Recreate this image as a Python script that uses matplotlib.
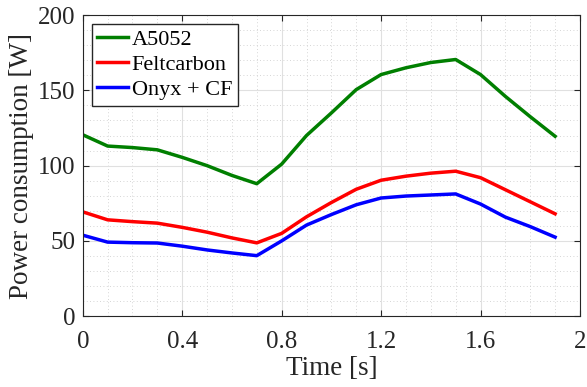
import matplotlib
matplotlib.use('Agg')
import matplotlib.pyplot as plt
from matplotlib.ticker import MultipleLocator

plt.rc('font', family='Liberation Serif', size=18)

t = [0.0, 0.1, 0.2, 0.3, 0.4, 0.5, 0.6, 0.7, 0.8, 0.9,
     1.0, 1.1, 1.2, 1.3, 1.4, 1.5, 1.6, 1.7, 1.8, 1.9]
a5052 = [120.5, 113, 112, 110.5, 105.5, 100, 93.5, 88, 101, 120,
         135, 150.5, 160.5, 165, 168.5, 170.5, 160.5, 146, 132.5, 119.5]
feltcarbon = [69.3, 64, 62.8, 61.8, 59, 55.8, 52, 48.7, 55, 66,
              75.5, 84.3, 90.3, 93, 95, 96.3, 92, 84, 76, 68]
onyx_cf = [53.8, 49.2, 48.8, 48.6, 46.5, 44, 42, 40.2, 50, 60.5,
           67.5, 74, 78.5, 79.8, 80.5, 81.2, 74.5, 65.8, 59.5, 52.5]

fig, ax = plt.subplots(figsize=(5.87, 3.87), dpi=100)
fig.subplots_adjust(left=0.141, right=0.988, top=0.961, bottom=0.183)

ax.plot(t, a5052, color='#007f00', linewidth=2.5, label='A5052')
ax.plot(t, feltcarbon, color='#ff0000', linewidth=2.5, label='Feltcarbon')
ax.plot(t, onyx_cf, color='#0000ff', linewidth=2.5, label='Onyx + CF')

ax.set_xlim(0, 2)
ax.set_ylim(0, 200)
ax.xaxis.set_minor_locator(MultipleLocator(0.1))
ax.yaxis.set_major_locator(MultipleLocator(50))
ax.yaxis.set_minor_locator(MultipleLocator(10))
ax.set_xticks([0, 0.4, 0.8, 1.2, 1.6, 2])
ax.set_xticklabels(['0', '0.4', '0.8', '1.2', '1.6', '2'])

ax.grid(which='major', color='#e0e0e0', linewidth=0.8)
ax.grid(which='minor', color='#c8c8c8', linestyle=(0, (1, 3)), linewidth=0.6)
ax.tick_params(which='both', direction='in', top=True, right=True, colors='#262626',
               labelcolor='#262626')
ax.tick_params(which='major', length=4, pad=5)
ax.tick_params(axis='x', which='major', pad=11)
ax.tick_params(which='minor', length=0)
for s in ax.spines.values():
    s.set_color('#262626')
    s.set_linewidth(0.8)

ax.set_xlabel('Time [s]', fontsize=19.5, color='#262626', labelpad=2)
ax.set_ylabel('Power consumption [W]', fontsize=19.5, color='#262626', labelpad=3)

ax.legend(loc='upper left', fontsize=16, edgecolor='#262626', fancybox=False,
          framealpha=1, handlelength=1.4, handletextpad=0.15, borderpad=0.25,
          labelspacing=0.2, borderaxespad=0.4)

plt.savefig('out.png', dpi=100)
